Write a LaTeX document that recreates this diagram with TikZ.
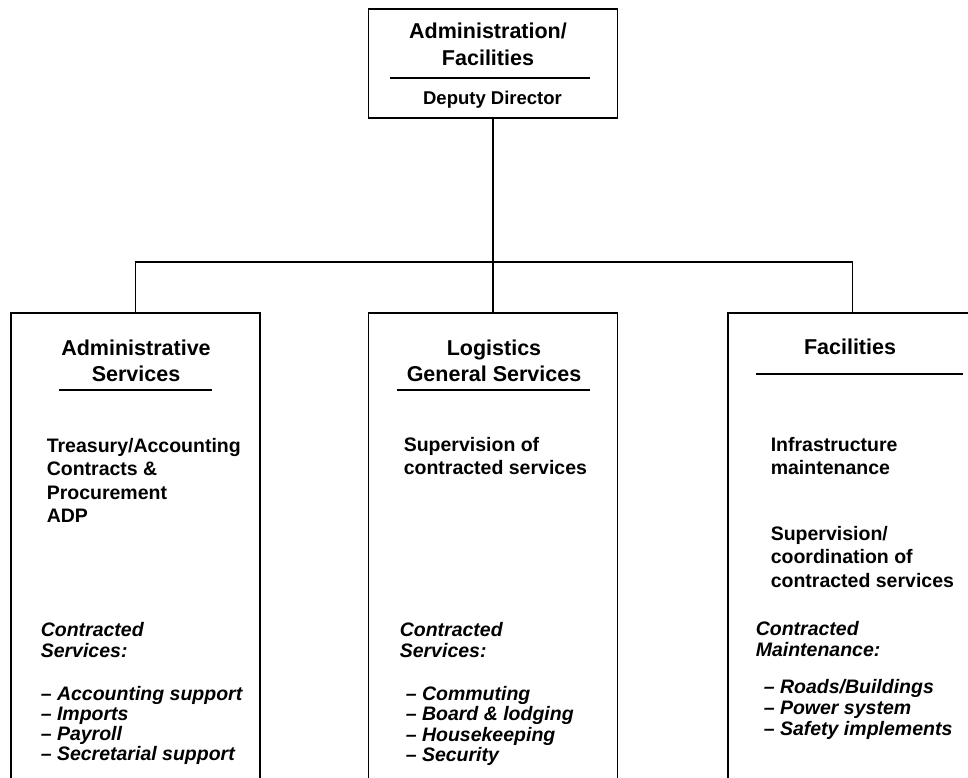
\documentclass[tikz,border=0pt]{standalone}
\usepackage{fontspec}
\setmainfont{Liberation Sans}
\tikzset{%
  unit/.style={draw,line width=1.6pt,minimum width=249pt,minimum height=#1,inner sep=0pt},
  unit/.default=520pt,
  head/.style={font=\fontsize{21.5}{26.5}\selectfont\bfseries,align=center,anchor=base,inner sep=0pt},
  body/.style={font=\fontsize{19.5}{23.5}\selectfont\bfseries,align=left,anchor=base west,inner sep=0pt},
  svc/.style={font=\fontsize{19.5}{#1}\selectfont\bfseries\itshape,align=left,anchor=base west,inner sep=0pt},
  svc/.default=21pt
}

\begin{document}
\begin{tikzpicture}[x=1pt,y=-1pt,line width=1.6pt]
  \useasboundingbox (0,0) rectangle (968,778);
  \clip (0,0) rectangle (968,778);
  %% boxes
  \node[unit=109pt] (dir) at (493,63.5) {};
  \node[unit,anchor=north] (adm) at (135.5,312) {};
  \node[unit,anchor=north] (log) at (493,312) {};
  \node[unit,anchor=north] (fac) at (852.5,312) {};
  \coordinate (bus) at (493,262);
  \draw (dir.south) -- (log.north);
  \draw (adm.north) |- (bus) -| (fac.north);
  %% top (base = last line)
  \node[head] (dirT) at (488,65.5) {Administration/\\Facilities};
  \draw (390,78) -- (590,78);
  \node[head,font=\fontsize{18.5}{22}\selectfont\bfseries] (dirD) at (492.5,105) {Deputy Director};
  %% administrative services
  \node[head] (admT) at (136,381.5) {Administrative\\Services};
  \draw (59,390) -- (212,390);
  \node[body] (admB) at (46,522.5) {Treasury/Accounting\\Contracts \&\\Procurement\\ADP};
  \node[svc] (admC) at (40,657) {Contracted\\Services:};
  \node[svc=20pt] (admL) at (40,760) {-- Accounting support\\-- Imports\\-- Payroll\\-- Secretarial support};
  %% logistics
  \node[head] (logT) at (494,381.5) {Logistics\\General Services};
  \draw (397,390) -- (590,390);
  \node[body] (logB) at (403,474.5) {Supervision of\\contracted services};
  \node[svc] (logC) at (399,657) {Contracted\\Services:};
  \node[svc=20.5pt] (logL) at (405,761.5) {-- Commuting\\-- Board \& lodging\\-- Housekeeping\\-- Security};
  %% facilities
  \node[head] (facT) at (850,354) {Facilities};
  \draw (756,374) -- (963,374);
  \node[body] (facB) at (770,474.5) {Infrastructure\\maintenance};
  \node[body] (facD) at (770,587) {Supervision/\\coordination of\\contracted services};
  \node[svc] (facC) at (755,656) {Contracted\\Maintenance:};
  \node[svc] (facL) at (763,735) {-- Roads/Buildings\\-- Power system\\-- Safety implements};
\end{tikzpicture}
\end{document}
